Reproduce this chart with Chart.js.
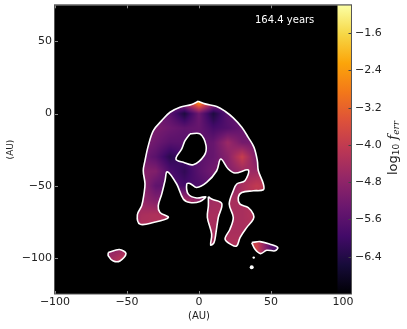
<!DOCTYPE html>
<html>
<head>
<meta charset="utf-8">
<title>f_err map</title>
<script src="https://cdn.jsdelivr.net/npm/chart.js@4"></script>
<style>
    html, body { margin: 0; padding: 0; background: #fff; }
    canvas { display: block; }
</style>
</head>
<body>
<canvas id="mapChart" width="407" height="329"></canvas>
<script>
// ---- tick labels ----
var xTicks = [-100, -50, 0, 50, 100];
var yTicks = [50, 0, -50, -100];
var barTicks = [-1.6, -2.4, -3.2, -4.0, -4.8, -5.6, -6.4];

// ---- region outlines, in AU ----
var mainOutline = [[-0.5,8.5],[4.2,6.7],[12.3,4.9],[18.1,1.6],[23.8,-3],[29.7,-9.5],[34.2,-16.5],[38.2,-23.4],[40.5,-32.6],[41.2,-39.6],[44.7,-48.8],[44.7,-52.8],[37.7,-53.5],[29.7,-54.7],[27.3,-58.1],[28.5,-62.7],[34.2,-65.1],[37.7,-69.7],[37.7,-73.1],[33.1,-79],[28.5,-85.9],[26.2,-91.7],[22.7,-91],[18.1,-87],[21.5,-80.1],[23.8,-72],[21,-62.7],[23.8,-53.5],[26.2,-48.8],[31.9,-46.5],[34.2,-39.1],[25,-41.2],[20.3,-38.4],[15.1,-31.5],[12.3,-39.6],[5.3,-47.7],[-1.6,-51.2],[-6.3,-48.4],[-8.5,-48.8],[-7.4,-55.8],[-1.6,-58.5],[4.7,-57.6],[0.7,-60.9],[-6.3,-61.6],[-10.9,-59.2],[-15.5,-48.8],[-22,-40.3],[-23.6,-46.5],[-25.9,-55.8],[-28.3,-63.9],[-27.1,-68.5],[-21.3,-72],[-31.7,-75.5],[-41,-76.6],[-42.8,-70.1],[-39.8,-63.9],[-38.2,-55.6],[-37.5,-48.6],[-38.7,-39.6],[-37.5,-32.6],[-35.2,-22.2],[-31.7,-11.8],[-25.9,-4.9],[-20.1,0.9],[-13.2,4.4],[-5.1,6.3]];
var holeOutline = [[-6.3,-14.1],[0.7,-14.1],[4.9,-22.2],[3.5,-29.2],[-4,-35.4],[-10.9,-33.8],[-16,-31.5],[-12,-24.5],[-9.7,-18.8]];
var sliverOutline = [[6.5,-57.6],[8.8,-59.2],[15.8,-62.3],[13.4,-72],[11.8,-82.4],[10.4,-89.4],[8.1,-91],[8.8,-83.5],[5.8,-72],[6.5,-63.9]];
var rightBlob = [[36.6,-89.4],[42.4,-88.7],[49.3,-90.5],[54.7,-92.8],[52.8,-95.1],[47,-94.7],[42.8,-97],[38.9,-94]];
var leftBlob = [[-63,-96.3],[-55.3,-94.2],[-50.7,-97],[-54.9,-102.1],[-59.5,-102.1],[-63,-98.6]];
var specks = [[38,-99.8],[36.6,-106.5]];

// ---- log10 f_err ----
var fieldX = [-70, -60, -50, -40, -30, -20, -10, 0, 10, 20, 30, 40, 50, 60];
var fieldY = [10, 0, -10, -20, -30, -40, -50, -60, -70, -80, -90, -100, -110];
var fieldRows = [
    [-5, -5, -5, -5, -5, -5.3, -4, -1.5, -4, -5.3, -5, -5, -5, -5],
    [-5, -5, -5, -5, -5.2, -5.6, -6.5, -5.3, -6.5, -5.6, -5.4, -5, -5, -5],
    [-5, -5, -5, -5, -5.1, -5.3, -5.5, -5.4, -5.9, -5.7, -5.4, -5.2, -5, -5],
    [-5, -5, -5, -5, -5.3, -5.6, -5.6, -5.5, -5.4, -4.6, -5.2, -5.2, -5, -5],
    [-5, -5, -5, -5.2, -5.6, -6.3, -5.9, -5.6, -5.4, -4.9, -3.9, -5.1, -5, -5],
    [-5, -5, -5, -4.9, -5, -5.8, -6.2, -5.6, -5.2, -5, -4.6, -4.6, -4.4, -5],
    [-5, -5, -5, -4.7, -5.5, -5.6, -5.9, -5.8, -5.5, -5, -4.4, -4, -4.2, -5],
    [-5, -5, -5, -4.7, -5, -4.9, -4.4, -4.8, -4.5, -4.4, -4.4, -4.3, -4.5, -5],
    [-5, -5, -5, -4.4, -4.3, -4.4, -4.4, -4.4, -4.4, -4.4, -4.4, -4.2, -4.5, -5],
    [-5, -5, -5, -4.3, -4.3, -4.3, -4.4, -4.4, -4.4, -4.4, -4.4, -4.3, -4.5, -5],
    [-5, -5, -5, -5, -5, -5, -5, -5, -4.4, -4.3, -4.3, -3.8, -5.6, -6],
    [-4.8, -4.5, -4, -5, -5, -5, -5, -5, -5, -5, -4.5, -3.7, -5.6, -6],
    [-4.8, -4.5, -4, -5, -5, -5, -5, -5, -5, -5, -4.5, -3.7, -5.6, -6]
];

// ---- inferno colour map ----
var inferno = [[0,0,4],[22,11,57],[66,10,104],[106,23,110],[147,38,103],[188,55,84],[221,81,58],[243,120,25],[252,165,10],[246,215,70],[252,255,164]];
var barMin = -7.2, barMax = -1.0;

function colourFor(v) {
    var t = (v - barMin) / (barMax - barMin) * (inferno.length - 1);
    t = Math.max(0, Math.min(inferno.length - 1.001, t));
    var i = Math.floor(t), f = t - i;
    return inferno[i].map(function (c, k) { return c + (inferno[i + 1][k] - c) * f; });
}

function fieldAt(x, y) {
    var cx = Math.max(0, Math.min(fieldX.length - 1.001, (x - fieldX[0]) / 10));
    var cy = Math.max(0, Math.min(fieldY.length - 1.001, (fieldY[0] - y) / 10));
    var i = Math.floor(cx), j = Math.floor(cy), u = cx - i, w = cy - j;
    var top = fieldRows[j][i] * (1 - u) + fieldRows[j][i + 1] * u;
    var bot = fieldRows[j + 1][i] * (1 - u) + fieldRows[j + 1][i + 1] * u;
    return top * (1 - w) + bot * w;
}

function closed(pts) { return pts.concat([pts[0]]); }

function outlineSet(pts) {
    return {
        data: closed(pts), showLine: true, fill: false, tension: 0.35,
        borderColor: '#ffffff', borderWidth: 1.6, pointRadius: 0
    };
}

// traces the same curves the line elements draw
function tracePath(ctx, chart, index) {
    var pts = chart.getDatasetMeta(index).dataset.points;
    ctx.moveTo(pts[0].x, pts[0].y);
    for (var i = 1; i < pts.length; i++) {
        ctx.bezierCurveTo(pts[i - 1].cp2x, pts[i - 1].cp2y, pts[i].cp1x, pts[i].cp1y, pts[i].x, pts[i].y);
    }
    ctx.closePath();
}

var fieldPlugin = {
    id: 'fieldPlugin',
    beforeDatasetsDraw: function (chart) {
        var ctx = chart.ctx, a = chart.chartArea;
        var w = Math.round(a.right - a.left), h = Math.round(a.bottom - a.top);
        ctx.fillStyle = '#000';
        ctx.fillRect(a.left, a.top, a.right - a.left, a.bottom - a.top);

        var off = document.createElement('canvas');
        off.width = w; off.height = h;
        var octx = off.getContext('2d'), img = octx.createImageData(w, h);
        for (var py = 0; py < h; py++) {
            var yv = chart.scales.y.getValueForPixel(a.top + py + 0.5);
            for (var px = 0; px < w; px++) {
                var c = colourFor(fieldAt(chart.scales.x.getValueForPixel(a.left + px + 0.5), yv));
                var n = (py * w + px) * 4;
                img.data[n] = c[0]; img.data[n + 1] = c[1]; img.data[n + 2] = c[2]; img.data[n + 3] = 255;
            }
        }
        octx.putImageData(img, 0, 0);

        ctx.save();
        ctx.beginPath();
        for (var d = 0; d < 5; d++) tracePath(ctx, chart, d);
        ctx.clip('evenodd');
        ctx.drawImage(off, a.left, a.top);
        ctx.restore();
    },
    afterDatasetsDraw: function (chart) {
        var ctx = chart.ctx, a = chart.chartArea, cb = chart.scales.cb;
        var barLeft = a.right - 14;

        // colour bar
        var grad = ctx.createLinearGradient(0, cb.getPixelForValue(barMin), 0, cb.getPixelForValue(barMax));
        inferno.forEach(function (c, i) {
            grad.addColorStop(i / (inferno.length - 1), 'rgb(' + c.join(',') + ')');
        });
        ctx.fillStyle = grad;
        ctx.fillRect(barLeft, a.top, 14, a.bottom - a.top);

        // inward ticks
        ctx.lineWidth = 1;
        ctx.strokeStyle = '#444';
        ctx.beginPath();
        barTicks.forEach(function (t) {
            var p = Math.round(cb.getPixelForValue(t)) + 0.5;
            ctx.moveTo(a.right, p); ctx.lineTo(a.right - 3, p);
        });
        ctx.stroke();
        ctx.strokeStyle = '#8a8a8a';
        ctx.beginPath();
        yTicks.forEach(function (t) {
            var p = Math.round(chart.scales.y.getPixelForValue(t)) + 0.5;
            ctx.moveTo(a.left, p); ctx.lineTo(a.left + 3, p);
        });
        xTicks.forEach(function (t) {
            if (t === 100) return;
            var p = Math.round(chart.scales.x.getPixelForValue(t)) + 0.5;
            ctx.moveTo(p, a.bottom); ctx.lineTo(p, a.bottom - 3);
            ctx.moveTo(p, a.top); ctx.lineTo(p, a.top + 3);
        });
        ctx.stroke();

        // frame
        ctx.strokeStyle = '#555';
        ctx.strokeRect(a.left - 0.5, a.top - 0.5, a.right - a.left + 0.5, a.bottom - a.top + 0.5);

        // texts
        ctx.fillStyle = '#fff';
        ctx.font = '10px "DejaVu Sans"';
        ctx.textAlign = 'left';
        ctx.textBaseline = 'middle';
        ctx.fillText('164.4 years', 255, 20);

        ctx.fillStyle = '#222';
        ctx.textAlign = 'center';
        ctx.fillText('(AU)', chart.scales.x.getPixelForValue(0), 316.5);
        ctx.save();
        ctx.font = '9px "DejaVu Sans"';
        ctx.translate(11, 149.5);
        ctx.rotate(-Math.PI / 2);
        ctx.fillText('(AU)', 0, 0);
        ctx.restore();

        // colour bar label, log10 f_err
        var parts = [
            ['log', '13px "DejaVu Sans"', 0],
            ['10', '9px "DejaVu Sans"', 2],
            [' f', 'italic 13px "DejaVu Serif"', 0],
            ['err', 'italic 9px "DejaVu Serif"', 2]
        ];
        var total = 0;
        parts.forEach(function (p) { ctx.font = p[1]; total += ctx.measureText(p[0]).width; });
        ctx.save();
        ctx.translate(397, 148);
        ctx.rotate(-Math.PI / 2);
        ctx.textAlign = 'left';
        ctx.textBaseline = 'alphabetic';
        var at = -total / 2;
        parts.forEach(function (p) {
            ctx.font = p[1];
            ctx.fillText(p[0], at, p[2]);
            at += ctx.measureText(p[0]).width;
        });
        ctx.restore();
    }
};

function minusLabel(v) { return String(v).replace('-', '\u2212'); }

new Chart(document.getElementById('mapChart'), {
    type: 'scatter',
    data: {
        datasets: [
            outlineSet(mainOutline),
            outlineSet(holeOutline),
            outlineSet(sliverOutline),
            outlineSet(rightBlob),
            outlineSet(leftBlob),
            {
                data: specks, showLine: false, pointRadius: [1.2, 2],
                pointBackgroundColor: '#fff', pointBorderColor: '#fff', pointBorderWidth: 0
            }
        ]
    },
    options: {
        responsive: false,
        animation: false,
        events: [],
        layout: { padding: { top: 5.3, left: 0, right: 0, bottom: 0 } },
        plugins: { legend: { display: false }, tooltip: { enabled: false } },
        scales: {
            x: {
                type: 'linear', position: 'bottom', min: -100, max: 105.9,
                afterBuildTicks: function (s) { s.ticks = xTicks.map(function (v) { return { value: v }; }); },
                afterFit: function (s) { s.height = 35; s.paddingLeft = 0; s.paddingRight = 0; },
                grid: { display: false, drawTicks: false },
                border: { display: false },
                ticks: {
                    color: '#222', padding: 2, maxRotation: 0, autoSkip: false,
                    font: { family: 'DejaVu Sans', size: 11 }, callback: minusLabel
                }
            },
            y: {
                type: 'linear', position: 'left', min: -125, max: 75,
                afterBuildTicks: function (s) { s.ticks = yTicks.map(function (v) { return { value: v }; }); },
                afterFit: function (s) { s.width = 55; s.paddingTop = 0; s.paddingBottom = 0; },
                grid: { display: false, drawTicks: false },
                border: { display: false },
                ticks: {
                    color: '#222', padding: 3, autoSkip: false,
                    font: { family: 'DejaVu Sans', size: 11 }, callback: minusLabel
                }
            },
            cb: {
                type: 'linear', position: 'right', min: barMin, max: barMax,
                afterBuildTicks: function (s) { s.ticks = barTicks.map(function (v) { return { value: v }; }); },
                afterFit: function (s) { s.width = 55.5; s.paddingTop = 0; s.paddingBottom = 0; },
                grid: { display: false, drawTicks: false },
                border: { display: false },
                ticks: {
                    color: '#222', padding: 3.5, autoSkip: false,
                    font: { family: 'DejaVu Sans', size: 11 },
                    callback: function (v) { return minusLabel(v.toFixed(1)); }
                }
            }
        }
    },
    plugins: [fieldPlugin]
});
</script>
</body>
</html>
